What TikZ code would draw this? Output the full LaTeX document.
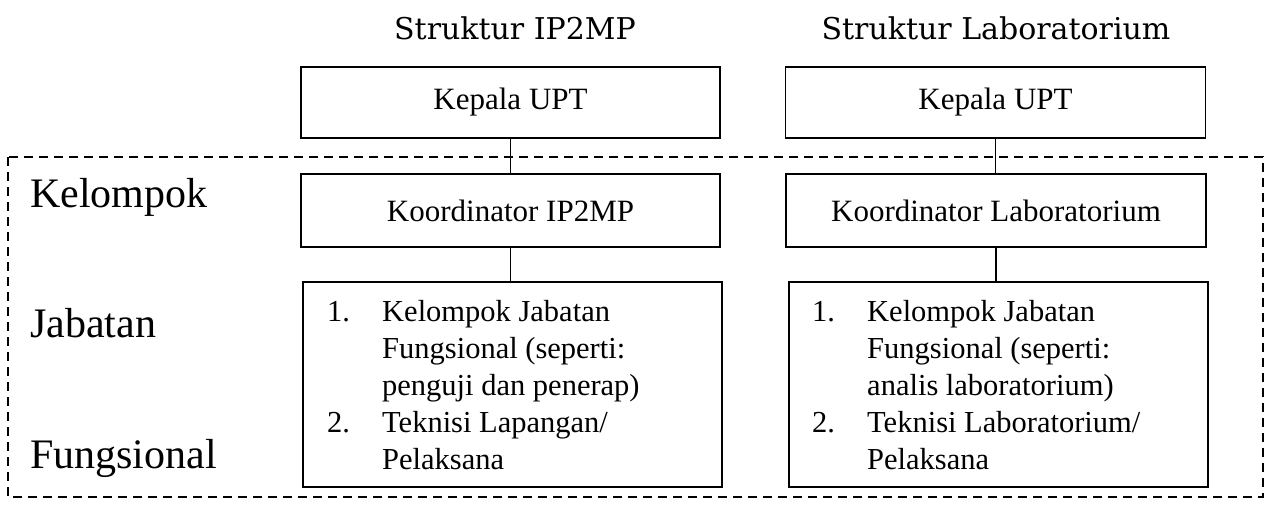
\documentclass[tikz,border=0pt]{standalone}
\usepackage{fontspec}
\setmainfont{Liberation Serif}
\newfontfamily\titlefont{DejaVu Serif}
\begin{document}
\begin{tikzpicture}[x=1pt,y=-1pt,
  box/.style={draw=black, line width=1.5pt, rectangle, inner sep=0pt, font=\fontsize{31}{37}\selectfont},
  conn/.style={draw=black, line width=1.3pt},
  grp/.style={draw=black, line width=1.8pt, dash pattern=on 9pt off 6pt},
  side/.style={anchor=base west, inner sep=0pt, font=\fontsize{42}{48}\selectfont},
  ttl/.style={anchor=base, inner sep=0pt, font=\titlefont\fontsize{30}{36}\selectfont},
  lst/.style={anchor=base west, inner sep=0pt, font=\fontsize{30.5}{37}\selectfont}]
\useasboundingbox (0,0) rectangle (1269,504);
% group rectangle
\draw[grp] (8,157) rectangle (1263,497);
% titles
\node[ttl] (t1) at (515,39) {Struktur IP2MP};
\node[ttl] (t2) at (996,39) {Struktur Laboratorium};
% side labels
\node[side] (s1) at (30,207) {Kelompok};
\node[side] (s2) at (30,337) {Jabatan};
\node[side] (s3) at (30,468) {Fungsional};
% boxes left
\node[box, minimum width=419pt, minimum height=71pt] (k1) at (510.5,102.5) {Kepala UPT};
\node[box, minimum width=419pt, minimum height=73pt] (c1) at (510.5,210.5) {Koordinator IP2MP};
\node[box, minimum width=419pt, minimum height=205pt] (l1) at (512.5,384.5) {};
% boxes right
\node[box, minimum width=420pt, minimum height=71pt] (k2) at (995.5,102.5) {Kepala UPT};
\node[box, minimum width=420pt, minimum height=73pt] (c2) at (996,210.5) {Koordinator Laboratorium};
\node[box, minimum width=419pt, minimum height=205pt] (l2) at (998.5,384.5) {};
% list texts
\node[lst] (x1) at (327,321) {\begin{tabular}[t]{@{}p{55pt}@{}l@{}}
1. & Kelompok Jabatan\\
   & Fungsional (seperti:\\
   & penguji dan penerap)\\
2. & Teknisi Lapangan/\\
   & Pelaksana
\end{tabular}};
\node[lst] (x2) at (812,321) {\begin{tabular}[t]{@{}p{55pt}@{}l@{}}
1. & Kelompok Jabatan\\
   & Fungsional (seperti:\\
   & analis laboratorium)\\
2. & Teknisi Laboratorium/\\
   & Pelaksana
\end{tabular}};
% connectors
\draw[conn] (k1.south) -- (c1.north);
\draw[conn] (c1.south) -- (c1.south |- l1.north);
\draw[conn] (k2.south) -- (k2.south |- c2.north);
\draw[conn] (c2.south) -- (c2.south |- l2.north);
\end{tikzpicture}
\end{document}
